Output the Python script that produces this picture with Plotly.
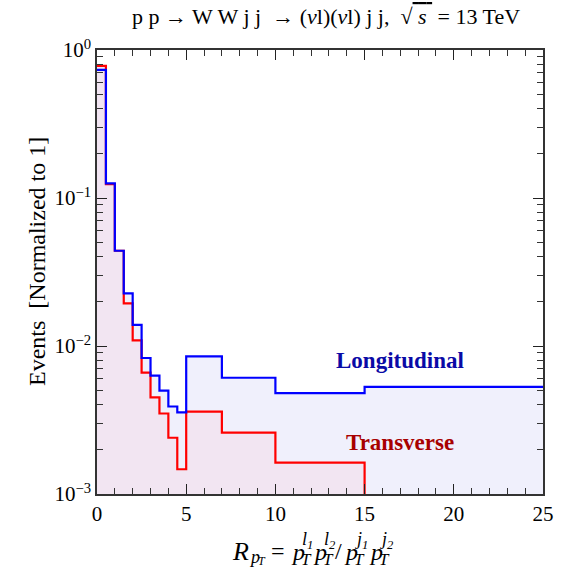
import plotly.graph_objects as go

# ---------------- data ----------------
bin_edges = [0, 0.5, 1, 1.5, 2, 2.5, 3, 3.5, 4, 4.5, 5, 7, 10, 15, 25]
longitudinal = [0.733, 0.1257, 0.044, 0.0227, 0.0139, 0.0083, 0.0063, 0.0050,
                0.0039, 0.00356, 0.0085, 0.0061, 0.0048, 0.0053]
transverse = [0.78, 0.124, 0.044, 0.0194, 0.0109, 0.0066, 0.0045, 0.0035,
              0.0024, 0.00147, 0.0036, 0.0026, 0.00163, 0.0]

x_tick_vals = [0, 5, 10, 15, 20, 25]
x_tick_text = ["0", "5", "10", "15", "20", "25"]
y_tick_vals = [1e-3, 1e-2, 1e-1, 1]
y_tick_text = ["10<sup>\u22123</sup>", "10<sup>\u22122</sup>", "10<sup>\u22121</sup>", "10<sup>0</sup>"]
x_minor_vals = [v for v in range(0, 26) if v % 5 != 0]
y_minor_vals = [m * 10 ** e for e in (-3, -2, -1) for m in range(2, 10)]

series_names = ["Longitudinal", "Transverse"]

# ---------------- style ----------------
W, H = 566, 569
ML, MR, MT, MB = 97, 23, 50, 75
PW, PH = W - ML - MR, H - MT - MB
FONT = "Liberation Serif"
FLOOR = 1e-6  # below visible range -> acts as "zero" on log axis


def steps(edges, vals):
    xs, ys = [], []
    for i, v in enumerate(vals):
        v = v if v > 0 else FLOOR
        xs += [edges[i], edges[i + 1]]
        ys += [v, v]
    return xs, ys


bx, by = steps(bin_edges, longitudinal)
rx, ry = steps(bin_edges, transverse)

fig = go.Figure()
# fills
fig.add_trace(go.Scatter(x=bx + [bin_edges[-1], bin_edges[0]], y=by + [FLOOR, FLOOR],
                         fill="toself", fillcolor="#f0f0fc", line=dict(width=0),
                         mode="lines", hoverinfo="skip", showlegend=False))
fig.add_trace(go.Scatter(x=rx + [bin_edges[-1], bin_edges[0]], y=ry + [FLOOR, FLOOR],
                         fill="toself", fillcolor="#f2e5f2", line=dict(width=0),
                         mode="lines", hoverinfo="skip", showlegend=False))
# lines
fig.add_trace(go.Scatter(x=rx, y=ry, mode="lines", line=dict(color="#ff0000", width=2.2),
                         name=series_names[1], showlegend=False))
fig.add_trace(go.Scatter(x=bx, y=by, mode="lines", line=dict(color="#0000ff", width=2.2),
                         name=series_names[0], showlegend=False))

axis_common = dict(showline=True, linecolor="#333333", linewidth=1.5, mirror="ticks",
                   ticks="inside", ticklen=10, tickwidth=1.2, tickcolor="#222222",
                   showgrid=False, zeroline=False,
                   tickfont=dict(family=FONT, size=21, color="black"))

fig.update_xaxes(range=[0, 25], tickvals=x_tick_vals, ticktext=x_tick_text,
                 minor=dict(tickvals=x_minor_vals, ticks="inside", ticklen=6,
                            tickwidth=1, tickcolor="#333333", showgrid=False),
                 **axis_common)
fig.update_yaxes(type="log", range=[-3, 0], tickvals=y_tick_vals, ticktext=y_tick_text,
                 minor=dict(tickvals=y_minor_vals, ticks="inside", ticklen=6,
                            tickwidth=1, tickcolor="#333333", showgrid=False),
                 **axis_common)


def px(x):
    return (x - ML) / PW


def py(y):
    return (H - MB - y) / PH


ann = []


def txt(x, y, text, size, color="black", xanchor="left", angle=0):
    ann.append(dict(x=px(x), y=py(y), xref="paper", yref="paper", text=text,
                    showarrow=False, xanchor=xanchor, yanchor="middle", textangle=angle,
                    font=dict(family=FONT, size=size, color=color)))


# title
txt(326, 17, "p p \u2192 W W j j \u00a0\u2192 (<i>\u03bd</i>l)(<i>\u03bd</i>l) j j, \u00a0\u221a"
    "<span style='text-decoration:overline'>\u00a0<i>s</i>\u00a0</span> = 13 TeV",
    22, xanchor="center")
# y title
txt(37, 262, "Events \u00a0[Normalized to 1]", 24, xanchor="center", angle=-90)
# series labels
txt(400, 360, "<b>Longitudinal</b>", 23, color="#0a0aa6", xanchor="center")
txt(400, 442, "<b>Transverse</b>", 23, color="#a80000", xanchor="center")

# x-axis formula R_pT = pT^l1 pT^l2 / pT^j1 pT^j2
txt(230, 551, "<i>R</i>", 26)
txt(247, 557, "<i>p</i>", 18)
txt(256, 561, "<i>T</i>", 12)
txt(269, 551, "=", 24)
for xl, sup in [(289, "l<sub>1</sub>"), (311, "l<sub>2</sub>"), (342, "j<sub>1</sub>"), (367, "j<sub>2</sub>")]:
    txt(xl, 552, "<i>p</i>", 24)
    txt(xl + 10, 559, "<i>T</i>", 17)
    txt(xl + 11, 540, "<i>" + sup + "</i>", 18)
txt(333, 551, "/", 24)

fig.update_layout(width=W, height=H, margin=dict(l=ML, r=MR, t=MT, b=MB),
                  paper_bgcolor="white", plot_bgcolor="white",
                  annotations=ann, showlegend=False)

fig.write_html("out.html")
